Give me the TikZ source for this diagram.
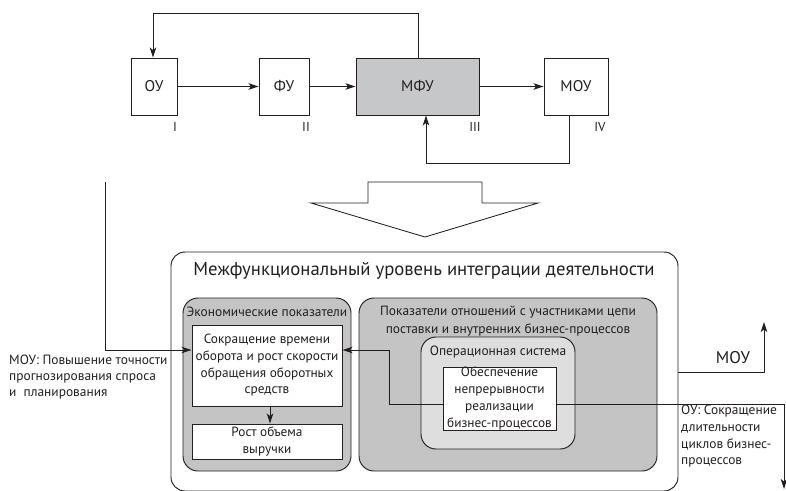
\documentclass[tikz,border=0pt]{standalone}
\usepackage{fontspec}
\setmainfont{PT Sans}
\usetikzlibrary{arrows.meta,calc}

\definecolor{ink}{HTML}{231F20}
\definecolor{midgray}{HTML}{C6C7C9}
\definecolor{darkfill}{HTML}{C4C4C4}
\definecolor{lightfill}{HTML}{DEDEDF}

\tikzset{
  wire/.style={draw=ink, line width=0.95pt},
  arr/.style={wire, -{Stealth[length=10pt,width=6.5pt,inset=2.5pt]}},
  unit/.style={draw=ink, line width=0.95pt, fill=white, minimum height=57pt,
    inner sep=0pt, font=\fontsize{15.5}{18}\selectfont, text=ink},
  roman/.style={font=\fontsize{13}{14}\selectfont, text=ink, inner sep=0pt},
  frame/.style={draw=ink, line width=0.95pt, rounded corners=14pt, inner sep=0pt},
  group/.style={draw=ink, line width=0.95pt, rounded corners=15pt, inner sep=0pt, fill=darkfill},
  card/.style={draw=ink, line width=0.95pt, fill=white, inner sep=0pt, align=center,
    font=\fontsize{13.3}{16.7}\selectfont, text=ink},
  caption/.style={inner sep=0pt, align=center, font=\fontsize{13.4}{18}\selectfont, text=ink},
  note/.style={inner sep=0pt, align=left, font=\fontsize{13.4}{15.8}\selectfont, text=ink}
}

\begin{document}
\begin{tikzpicture}[x=1pt,y=-1pt]
\useasboundingbox (0,0) rectangle (786,490);

% chain of control levels
\node[unit, minimum width=46pt]  (ou)  at (154,86.5)   {ОУ};
\node[unit, minimum width=50pt]  (fu)  at (284,86.5)   {ФУ};
\node[unit, minimum width=123pt, fill=midgray] (mfu) at (417.5,86.5) {МФУ};
\node[unit, minimum width=64pt]  (mou) at (576,86.5)   {МОУ};

\node[roman] (r1) at (175,127) {I};
\node[roman] (r2) at (306,127) {II};
\node[roman] (r3) at (475,127) {III};
\node[roman] (r4) at (600,127) {IV};

\draw[arr] (ou) -- (fu);
\draw[arr] (fu) -- (mfu);
\draw[arr] (mfu) -- (mou);

\coordinate (ftop) at (418,13);
\draw[arr] (mfu.north -| ftop) -- (ftop) -| ([xshift=-1pt]ou.north);
\coordinate (fbot) at (569,163);
\draw[arr] (mou.south -| fbot) -- (fbot) -| ([xshift=8.5pt]mfu.south);

% block arrow
\draw[draw=ink, line width=0.85pt, fill=white]
  (368,182) -- (482,182) -- (482,203) -- (538,203) -- (425,237)
  -- (311,203) -- (368,203) -- cycle;

% cross-functional level
\node[frame, minimum width=507pt, minimum height=239pt] (outer) at (424.5,371.5) {};
\node[inner sep=0pt, font=\fontsize{18.7}{22}\selectfont, text=ink] (title) at (424,271) {Межфункциональный уровень интеграции деятельности};

\node[group, minimum width=168pt, minimum height=173pt] (eco) at (267,384.5) {};
\node[caption] (ecol) at (267,312) {Экономические показатели};
\node[card, minimum width=150pt, minimum height=81pt] (b1) at (267,365.5)
  {Сокращение времени\\оборота и рост скорости\\обращения оборотных\\средств};
\node[card, minimum width=150pt, minimum height=35pt] (b2) at (267,441.5)
  {Рост объема\\выручки};
\draw[arr] ([xshift=3pt]b1.south) -- ([xshift=3pt]b2.north);

\node[group, minimum width=298pt, minimum height=173pt] (rel) at (508,384.5) {};
\node[caption] (rell) at (508,321)
  {Показатели отношений с участниками цепи\\поставки и внутренних бизнес-процессов};
\node[group, fill=lightfill, minimum width=154pt, minimum height=112pt] (ops) at (498,393) {};
\node[caption] (opsl) at (498,352) {Операционная система};
\node[card, minimum width=113pt, minimum height=63pt] (b3) at (499.5,398.5)
  {Обеспечение\\непрерывности\\реализации\\бизнес-процессов};

% links between the indicators
\coordinate (j1) at (389,350);
\draw[arr] ([yshift=-5.5pt]b3.west) -| (j1) -- (b1.east |- j1);

\coordinate (inl) at (105,182);
\draw[arr] (inl) |- (b1.west |- j1);
\node[note, anchor=north west] (inlabel) at (9,355)
  {МОУ: Повышение точности\\прогнозирования спроса\\и\ \ планирования};

\coordinate (moup) at (764,372);
\draw[arr] (outer.east |- moup) -- (moup) -- ++(0,-50);
\node[inner sep=0pt, font=\fontsize{17}{19}\selectfont, text=ink] (moul) at (733,358) {МОУ};

\coordinate (oup) at (784,404);
\draw[arr] ([yshift=-5.5pt]b3.east) -- (oup) -- ++(0,85);
\node[note, anchor=north west, font=\fontsize{13.4}{16.7}\selectfont] (oul) at (681,405)
  {ОУ: Сокращение\\длительности\\циклов бизнес-\\процессов};
\end{tikzpicture}
\end{document}
